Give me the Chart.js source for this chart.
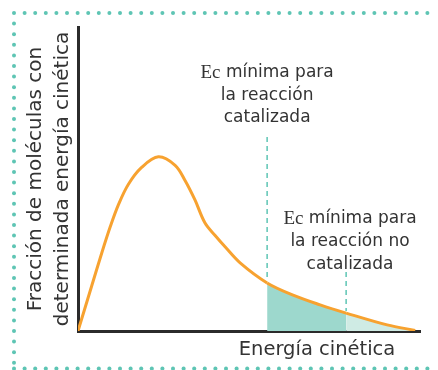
<!DOCTYPE html>
<html>
<head>
<meta charset="utf-8">
<script src="https://cdn.jsdelivr.net/npm/chart.js@4.4.1/dist/chart.umd.min.js"></script>
<style>
  html, body { margin: 0; padding: 0; background: #fff; }
  #wrap { width: 438px; height: 370px; }
</style>
</head>
<body>
<div id="wrap"><canvas id="chart" width="438" height="370"></canvas></div>
<script>
// Energy values (x) and fraction of molecules (y)
const energy   = [0, 4.0, 6.9, 9.4, 11.8, 14.7, 18.6, 23.5, 28.4, 31.3, 34.2, 37.1, 40.1, 43.0, 47.4, 55.3, 62.9, 70.8, 78.4, 90.4, 98.6];
const fraction = [0, 14.8, 25.5, 34.2, 41.5, 48.2, 53.8, 57.3, 54.5, 49.5, 43.1, 35.6, 31.4, 27.7, 22.4, 15.8, 11.8, 8.6, 5.9, 2.0, 0.2];

// minimum kinetic energy thresholds
const ecCatalyzed = 55.3;
const ecUncatalyzed = 78.4;

const yTitle = ['Fracción de moléculas con', 'determinada energía cinética'];
const xTitle = 'Energía cinética';
const label1 = ['Ec mínima para', 'la reacción', 'catalizada'];
const label2 = ['Ec mínima para', 'la reacción no', 'catalizada'];

const ORANGE = '#f7a230';
const TEAL = '#5ec5b4';
const FILL_DARK = '#9dd8cd';
const FILL_LIGHT = '#cfebe4';
const TEXT = '#333333';
const SANS = '"DejaVu Sans", sans-serif';

const points = energy.map((x, i) => ({ x: x, y: fraction[i] }));

function fractionAt(x) {
  return fraction[energy.indexOf(x)];
}

// draws the dotted frame, dashed thresholds and the labels
const extras = {
  id: 'extras',
  beforeDraw(chart) {
    const ctx = chart.ctx;
    ctx.save();
    ctx.fillStyle = TEAL;
    const step = 10.6;
    for (let x = 14; x < 438; x += step) {
      ctx.beginPath(); ctx.arc(x, 13, 2, 0, Math.PI * 2); ctx.fill();
      ctx.beginPath(); ctx.arc(x, 368.5, 2, 0, Math.PI * 2); ctx.fill();
    }
    for (let y = 13 + step; y < 368; y += step) {
      ctx.beginPath(); ctx.arc(14, y, 2, 0, Math.PI * 2); ctx.fill();
    }
    ctx.restore();
  },
  afterDatasetsDraw(chart) {
    const ctx = chart.ctx;
    const xs = chart.scales.x, ys = chart.scales.y;

    function dashed(xv, topPx) {
      const px = xs.getPixelForValue(xv);
      ctx.save();
      ctx.strokeStyle = TEAL;
      ctx.lineWidth = 1.5;
      ctx.setLineDash([5, 4]);
      ctx.beginPath();
      ctx.moveTo(px, topPx);
      ctx.lineTo(px, ys.getPixelForValue(fractionAt(xv)) - 2);
      ctx.stroke();
      ctx.restore();
    }
    dashed(ecCatalyzed, 137);
    dashed(ecUncatalyzed, 272);

    function block(lines, cx, y0, gap) {
      ctx.save();
      ctx.fillStyle = TEXT;
      ctx.textBaseline = 'middle';
      ctx.textAlign = 'left';
      const serif = '19px "Liberation Serif", serif';
      const sans = '17px ' + SANS;
      lines.forEach((t, i) => {
        const y = y0 + i * gap;
        if (t.startsWith('Ec')) {
          ctx.font = serif;
          const w1 = ctx.measureText('Ec').width;
          ctx.font = sans;
          const rest = t.slice(2);
          const w2 = ctx.measureText(rest).width;
          const x = cx - (w1 + w2) / 2;
          ctx.font = serif;
          ctx.fillText('Ec', x, y);
          ctx.font = sans;
          ctx.fillText(rest, x + w1, y);
        } else {
          ctx.font = sans;
          ctx.fillText(t, cx - ctx.measureText(t).width / 2, y);
        }
      });
      ctx.restore();
    }
    block(label1, xs.getPixelForValue(ecCatalyzed), 73, 22.5);
    block(label2, 350, 219, 23);

    ctx.save();
    ctx.fillStyle = TEXT;
    ctx.font = '19.5px ' + SANS;
    ctx.textAlign = 'center';
    ctx.textBaseline = 'middle';
    ctx.fillText(xTitle, 317, 350);
    ctx.restore();
  }
};

new Chart(document.getElementById('chart'), {
  type: 'line',
  data: {
    datasets: [{
      data: points,
      borderColor: ORANGE,
      borderWidth: 3,
      pointRadius: 0,
      pointHoverRadius: 0,
      tension: 0.35,
      fill: 'origin',
      backgroundColor: 'rgba(0,0,0,0)',
      segment: {
        backgroundColor: c => {
          const x0 = c.p0.parsed.x;
          if (x0 >= ecUncatalyzed) return FILL_LIGHT;
          if (x0 >= ecCatalyzed) return FILL_DARK;
          return 'rgba(0,0,0,0)';
        }
      }
    }]
  },
  options: {
    responsive: false,
    animation: false,
    layout: { autoPadding: false, padding: { left: 10, right: 18, top: 27, bottom: 39 } },
    plugins: { legend: { display: false }, tooltip: { enabled: false } },
    scales: {
      x: {
        type: 'linear', min: 0, max: 100,
        grid: { display: false, drawTicks: false },
        ticks: { display: false },
        border: { display: true, color: '#2b2b2b', width: 3 }
      },
      y: {
        min: 0, max: 100,
        grid: { display: false, drawTicks: false },
        ticks: { display: false },
        border: { display: true, color: '#2b2b2b', width: 3 },
        title: {
          display: true,
          text: yTitle,
          color: TEXT,
          font: { family: SANS, size: 20, lineHeight: 1.35 },
          padding: { top: 12, bottom: 2 }
        }
      }
    }
  },
  plugins: [extras]
});
</script>
</body>
</html>
